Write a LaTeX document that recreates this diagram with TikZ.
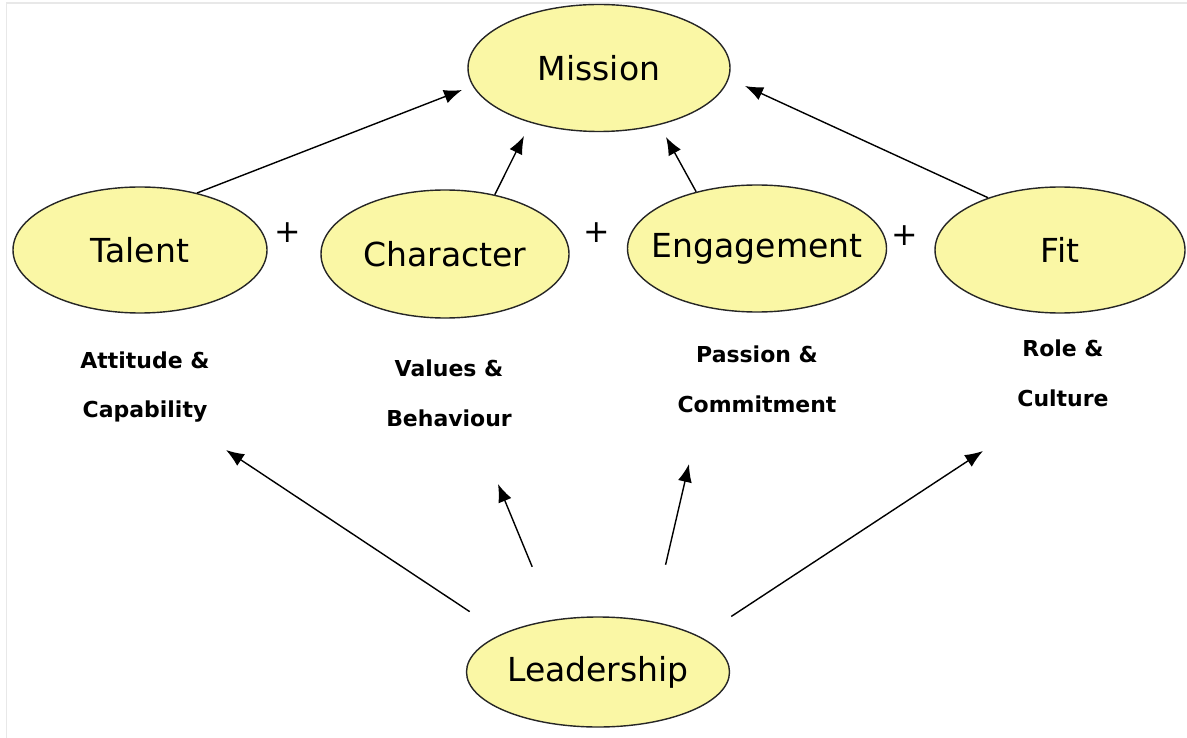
\documentclass[tikz,border=0pt]{standalone}
\usepackage{fontspec}
\setmainfont{DejaVu Sans}
\usetikzlibrary{arrows.meta,shapes.geometric}
\definecolor{ellyellow}{RGB}{250,247,165}
\tikzset{
  ell/.style={ellipse,draw=black!85,line width=0.8pt,fill=ellyellow,inner xsep=-1cm,inner ysep=0pt,font=\fontsize{18.8}{20}\selectfont},
  lbl/.style={align=center,font=\bfseries\fontsize{12.5}{28.35}\selectfont},
  arr/.style={-{Latex[length=3.6mm,width=2.8mm]},line width=0.8pt},
  plus/.style={font=\fontsize{18}{20}\selectfont}
}
\begin{document}
\begin{tikzpicture}
\useasboundingbox(0,0)rectangle(23.74,-14.76);
\draw[gray!18,line width=1pt](0.13,-14.76)--(0.13,-0.06)--(23.74,-0.06);
%
\node[ell,minimum width=5.24cm,minimum height=2.54cm](mission)at(11.98,-1.36){Mission};
\node[ell,minimum width=5.08cm,minimum height=2.52cm](talent)at(2.8,-5.0){Talent};
\node[ell,minimum width=4.96cm,minimum height=2.56cm](character)at(8.9,-5.08){Character};
\node[ell,minimum width=5.18cm,minimum height=2.54cm](engagement)at(15.14,-4.97){Engagement};
\node[ell,minimum width=5.0cm,minimum height=2.52cm](fit)at(21.2,-5.0){Fit};
\node[ell,minimum width=5.26cm,minimum height=2.2cm](leadership)at(11.96,-13.44){Leadership};
%
\node[plus](p1)at(5.76,-4.66){+};
\node[plus](p2)at(11.94,-4.66){+};
\node[plus](p3)at(18.1,-4.72){+};
%
\node[lbl](attitude)at(2.9,-7.74){Attitude \&\\Capability};
\node[lbl](values)at(8.98,-7.86){Values \&\\Behaviour};
\node[lbl](passion)at(15.14,-7.58){Passion \&\\Commitment};
\node[lbl](role)at(21.26,-7.46){Role \&\\Culture};
%
\coordinate(mt)at(9.24,-1.8);
\coordinate(mc)at(10.48,-2.72);
\coordinate(me)at(13.32,-2.74);
\coordinate(mf)at(14.9,-1.72);
\draw[arr](talent.45)--(mt);
\draw[arr](character.50)--(mc);
\draw[arr](engagement.137)--(me);
\draw[arr](fit.144)--(mf);
%
\coordinate(at)at(4.52,-9.0);
\coordinate(vt)at(9.96,-9.68);
\coordinate(pt)at(13.78,-9.28);
\coordinate(rt)at(19.66,-9.02);
\draw[arr,shorten <=0.79cm](leadership.158)--(at);
\draw[arr,shorten <=1.14cm](leadership.130)--(vt);
\draw[arr,shorten <=1.16cm](leadership.43)--(pt);
\draw[arr,shorten <=0.74cm](leadership.19)--(rt);
\end{tikzpicture}
\end{document}
